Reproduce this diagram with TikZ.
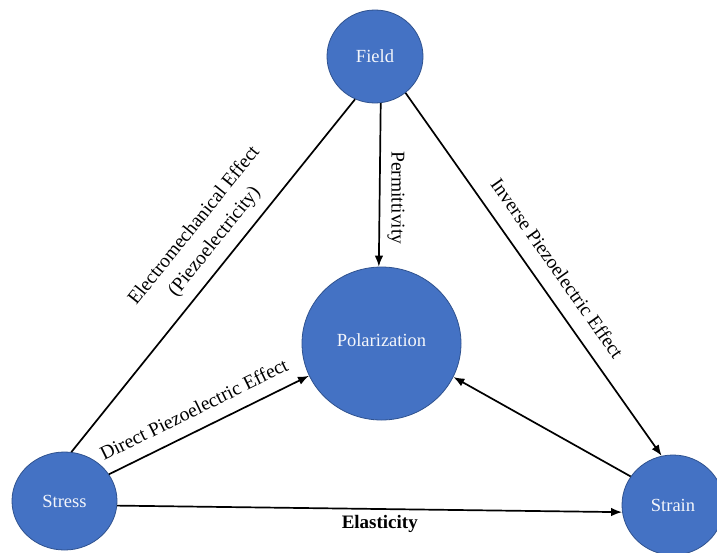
\documentclass[tikz,border=0pt]{standalone}
\usepackage{fontspec}
\setmainfont{Liberation Serif}
\usetikzlibrary{shapes.geometric,arrows.meta}
\definecolor{nodefill}{HTML}{4472C4}
\definecolor{nodeline}{HTML}{2F528F}
\definecolor{nodetext}{HTML}{F4F6FB}
\tikzset{
  bubble/.style={ellipse, draw=nodeline, line width=0.8pt, fill=nodefill, text=nodetext,
    inner sep=0pt, font=\fontsize{18.5}{22}\selectfont},
  link/.style={line width=1.7pt, draw=black},
  arrowlink/.style={link, -{Latex[length=11pt,width=8.5pt]}},
  lbl/.style={font=\fontsize{19.5}{26}\selectfont, sloped, inner sep=3pt},
}
\begin{document}
\begin{tikzpicture}[x=1pt,y=-1pt]
\clip (0,0) rectangle (717,552);
\fill[white] (0,0) rectangle (717,552);
\node[bubble, minimum width=96pt, minimum height=93pt] (field) at (375,56.5) {Field};
\node[bubble, minimum width=159pt, minimum height=153pt] (pol) at (381.5,343.5) {\raisebox{7pt}{Polarization}};
\node[bubble, minimum width=105pt, minimum height=98pt] (stress) at (64.5,501) {Stress};
\node[bubble, minimum width=102pt, minimum height=100pt] (strain) at (673,505) {Strain};

\draw[link] (stress.82.4) -- node[lbl, pos=0.56, above=7pt, align=center]
  {Electromechanical Effect\\(Piezoelectricity)} (field.245.8);
\draw[arrowlink] (field.277) -- node[pos=0.58, rotate=-90, anchor=south, yshift=4pt,
  font=\fontsize{19.5}{26}\selectfont, inner sep=3pt] {Permittivity} (pol.92.6);
\draw[arrowlink] (field.310.8) -- node[lbl, pos=0.52, above=12pt] {Inverse Piezoelectric Effect} (strain.103.8);
\draw[arrowlink] (stress.31.6) -- node[lbl, pos=0.47, above=10pt] {Direct Piezoelectric Effect} (pol.204.8);
\draw[arrowlink] (strain.146.9) -- (pol.335.9);
\draw[arrowlink] (stress.355.6) -- node[pos=0.52, below=2pt, inner sep=3pt,
  font=\fontsize{19}{24}\selectfont\bfseries] {Elasticity} (strain.188.9);
\end{tikzpicture}
\end{document}
